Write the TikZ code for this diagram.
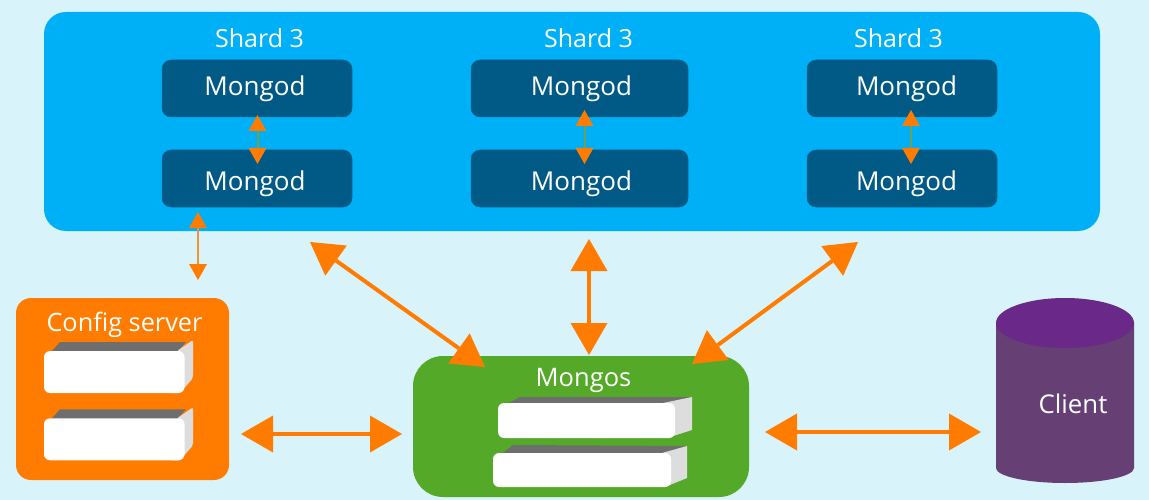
\documentclass[tikz,border=0pt]{standalone}
\usepackage{fontspec}
\setmainfont{Open Sans}
\usetikzlibrary{arrows.meta}
\definecolor{bgc}{HTML}{D9F3FB}
\definecolor{bluec}{HTML}{00B0F6}
\definecolor{navyc}{HTML}{005A85}
\definecolor{orangec}{HTML}{FF7C00}
\definecolor{greenc}{HTML}{55A928}
\definecolor{sidec}{HTML}{664074}
\definecolor{topc}{HTML}{6A2888}
\definecolor{shadec}{HTML}{6E6E6E}
\definecolor{lightc}{HTML}{DCDDDC}
\definecolor{linkc}{HTML}{6FA05A}
\definecolor{linkd}{HTML}{EE9236}
\tikzset{
  x=1pt,y=-1pt,
  label/.style={text=white,inner sep=0pt,anchor=base,font=\fontsize{#1}{#1}\selectfont},
  mongodbox/.style={fill=navyc,draw=navyc!85!bluec,line width=.5pt,rounded corners=9,minimum width=#1,minimum height=57,inner sep=0pt},
  bigarrow/.style={draw=orangec,line width=4pt,{Triangle[length=32pt,width=37pt,fill=orangec,line width=0pt]}-{Triangle[length=32pt,width=37pt,fill=orangec,line width=0pt]}},
  smallarrow/.style={draw=#1,line width=2pt,{Triangle[length=16pt,width=18pt,fill=orangec,line width=0pt]}-{Triangle[length=16pt,width=18pt,fill=orangec,line width=0pt]}},
  whitebox/.style={fill=white,rounded corners=6},
  topface/.style={fill=shadec},
  sideface/.style={fill=lightc},
}
\begin{document}
\begin{tikzpicture}
\useasboundingbox (0,0) rectangle (1149,500);
\fill[bgc] (0,0) rectangle (1149,500);
% shard panel
\fill[bluec,rounded corners=22] (44,12) rectangle (1100,231);
\node[label=25] (s1) at (259.5,47.5) {Shard 3};
\node[label=25] (s2) at (588.5,47.5) {Shard 3};
\node[label=25] (s3) at (898.5,47.5) {Shard 3};
\node[mongodbox=190] (a1) at (257,88.5) {};
\node[mongodbox=190] (b1) at (257,178.5) {};
\node[mongodbox=217] (a2) at (579.5,88.5) {};
\node[mongodbox=217] (b2) at (579.5,178.5) {};
\node[mongodbox=190] (a3) at (902,88.5) {};
\node[mongodbox=190] (b3) at (902,178.5) {};
\node[label=26] (ta1) at (255,96) {Mongod};
\node[label=26] (tb1) at (255,190.5) {Mongod};
\node[label=26] (ta2) at (581.5,96) {Mongod};
\node[label=26] (tb2) at (581.5,190.5) {Mongod};
\node[label=26] (ta3) at (906.5,96) {Mongod};
\node[label=26] (tb3) at (906.5,190.5) {Mongod};
% config server
\node[fill=orangec,rounded corners=15,minimum width=213,minimum height=182,inner sep=0pt] (config) at (122.5,389) {};
\node[label=25.3] (configlabel) at (124.5,331) {Config server};
\foreach \dy in {0,67.3}{
  \begin{scope}[yshift=-\dy pt]
    \fill[topface] (51,352) -- (60,342) -- (186,342) -- (177,352) -- cycle;
    \fill[sideface,rounded corners=2] (177,351) -- (193,340) -- (193,378) -- (180,393) -- (170,393) -- cycle;
    \fill[whitebox] (44,351) rectangle (184.5,393);
  \end{scope}
}
% mongos
\node[fill=greenc,rounded corners=30,minimum width=336,minimum height=141,inner sep=0pt] (mongos) at (581,426.5) {};
\node[label=25.5] (mongoslabel) at (583.5,386.5) {Mongos};
\fill[topface] (508,403.5) -- (520,397) -- (692,397) -- (663,403.5) -- cycle;
\fill[sideface] (663,403) -- (692,397) -- (692,430) -- (667,438) -- cycle;
\fill[whitebox] (498,403) rectangle (675,438);
\fill[topface] (502,453.5) -- (513,445) -- (687,446) -- (662,453.5) -- cycle;
\fill[sideface] (662,453) -- (687,446) -- (687,478) -- (665,487) -- cycle;
\fill[whitebox] (493,453) rectangle (671,487);
% client
\fill[sidec] (996,323) -- (996,468) arc[start angle=180,end angle=360,x radius=69,y radius=-15] -- (1134,323) -- cycle;
\fill[topc] (1065,323) ellipse[x radius=69,y radius=25];
\node[label=25.8] (client) at (1073,413) {Client};
% connector ends
\coordinate (a1e) at (257.5,115);  \coordinate (b1e) at (257.5,164);
\coordinate (a2e) at (584.5,110);  \coordinate (b2e) at (584.5,164);
\coordinate (a3e) at (911,110);    \coordinate (b3e) at (911,164);
\coordinate (b1s) at (198,212);    \coordinate (cfgn) at (198,280);
\coordinate (pl) at (310,242);     \coordinate (ml) at (485,367);
\coordinate (pm) at (589,239);     \coordinate (mm) at (589,355);
\coordinate (pr) at (858,242);     \coordinate (mr) at (692,364);
\coordinate (cfge) at (241,434);   \coordinate (mw) at (402,434);
\coordinate (me) at (765,432);     \coordinate (clw) at (981,432);
% connectors
\draw[smallarrow=linkc] (a1e) -- (b1e);
\draw[smallarrow=linkc] (a2e) -- (b2e);
\draw[smallarrow=linkc] (a3e) -- (b3e);
\draw[smallarrow=linkd] (b1s) -- (cfgn);
\draw[bigarrow] (pl) -- (ml);
\draw[bigarrow] (pm) -- (mm);
\draw[bigarrow] (pr) -- (mr);
\draw[bigarrow] (cfge) -- (mw);
\draw[bigarrow] (me) -- (clw);
\end{tikzpicture}
\end{document}
